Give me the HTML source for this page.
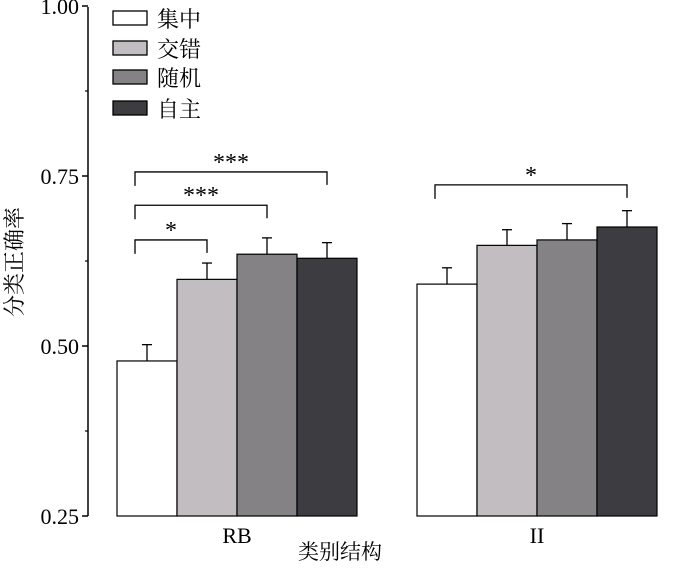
<!DOCTYPE html>
<html><head><meta charset="utf-8"><style>
body{margin:0;background:#fff}
svg text{font-family:"Liberation Serif","Noto Serif CJK SC",serif;fill:#000}
</style></head><body>
<svg id="c" width="689" height="565"></svg>
<script>
const groups=["RB","II"];
const series=["集中","交错","随机","自主"];
const colors=["#ffffff","#c1bdc1","#858285","#3d3c40"];
const values=[[0.478,0.598,0.635,0.629],[0.591,0.648,0.656,0.675]];
const errors=[[0.024,0.024,0.024,0.023],[0.024,0.023,0.024,0.024]];
const ticks=[0.25,0.50,0.75,1.00];
const sig=[{g:0,a:0,b:1,label:"*",lvl:0.656},{g:0,a:0,b:2,label:"***",lvl:0.707},{g:0,a:0,b:3,label:"***",lvl:0.756},{g:1,a:0,b:3,label:"*",lvl:0.737}];
const NS="http://www.w3.org/2000/svg",svg=document.getElementById('c');
const y=v=>516-(v-0.25)*680;
const gx=[117,417],bw=60;
const xb=(g,s)=>gx[g]+s*bw;
function el(t,a,p){const e=document.createElementNS(NS,t);for(const k in a)e.setAttribute(k,a[k]);(p||svg).appendChild(e);return e;}
let ax=el('line',{x1:88,y1:7,x2:88,y2:516,stroke:'#000','stroke-width':1.5});


ticks.forEach(t=>{
 let l=el('line',{x1:82,x2:88,y1:y(t),y2:y(t),stroke:'#000','stroke-width':1.5});
 
 
 let tx=el('text',{x:79,y:y(t)+8,'text-anchor':'end','font-size':22});tx.textContent=t.toFixed(2);
 
 
 if(t<1){let m=el('line',{x1:85,x2:88,y1:y(t+0.125),y2:y(t+0.125),stroke:'#000','stroke-width':1.2});
 
 }
});
values.forEach((row,g)=>row.forEach((v,s)=>{
 const x=xb(g,s);
 let e=el('line',{x1:x+bw/2,x2:x+bw/2,y1:y(v),y2:y(v+errors[g][s]),stroke:'#000','stroke-width':1.3});
 
 
 let c=el('line',{x1:x+bw/2-5,x2:x+bw/2+5,y1:y(v+errors[g][s]),y2:y(v+errors[g][s]),stroke:'#000','stroke-width':1.3});
 
 
 let r=el('rect',{x:x,y:y(v),width:bw,height:516-y(v),fill:colors[s],stroke:'#000','stroke-width':1.2});
 
 
}));
groups.forEach((g,i)=>{let t=el('text',{x:gx[i]+2*bw,y:543,'text-anchor':'middle','font-size':22});t.textContent=g;
 
 });
sig.forEach(s=>{
 const x1=xb(s.g,s.a)+18,x2=xb(s.g,s.b)+bw/2,yy=y(s.lvl);
 let p=el('path',{d:`M${x1} ${yy+14}V${yy}H${x2}V${yy+13}`,fill:'none',stroke:'#000','stroke-width':1.3});
 
 
 let t=el('text',{x:(x1+x2)/2,y:yy-2,'text-anchor':'middle','font-size':24});t.textContent=s.label;
 
 
});
series.forEach((n,i)=>{
 const ly=[11,41,70,101][i];
 let r=el('rect',{x:113,y:ly,width:34,height:14,fill:colors[i],stroke:'#000','stroke-width':1.3});
 
 
 let t=el('text',{x:157,y:ly+16,'font-size':22});t.textContent=n;
 
 
});
let xt=el('text',{x:340,y:559,'text-anchor':'middle','font-size':21});xt.textContent="类别结构";


let yt=el('text',{x:0,y:0,'text-anchor':'middle','font-size':22,transform:'translate(22,262) rotate(-90)'});yt.textContent="分类正确率";


</script>
</body></html>
